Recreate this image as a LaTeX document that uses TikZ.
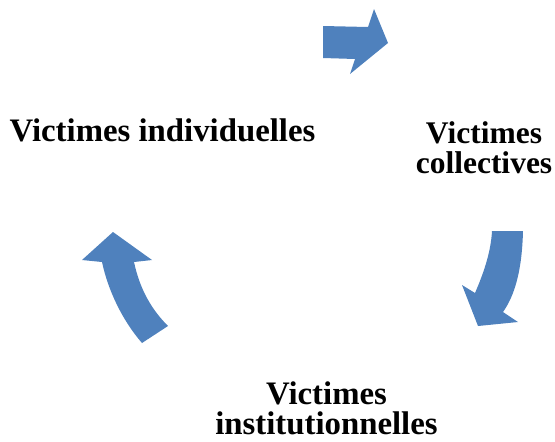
\documentclass[tikz,border=0pt]{standalone}
\usepackage{fontspec}
\setmainfont{Liberation Serif}
\begin{document}
\begin{tikzpicture}[x=1pt,y=-1pt,
  label/.style={font=\bfseries\fontsize{32.8}{29.5}\selectfont, align=center, inner sep=0pt, anchor=base},
  smalllabel/.style={label, font=\bfseries\fontsize{31.5}{30}\selectfont},
  cyclearrow/.style={fill=arrowblue, draw=none}]
\definecolor{arrowblue}{HTML}{4F81BD}
\useasboundingbox (0,0) rectangle (555,442);

% labels (base anchor sits on the last line of each label)
\node[label] (indiv) at (162.5,141) {Victimes individuelles};
\node[smalllabel] (coll) at (484,173) {Victimes\\collectives};
\node[label] (inst) at (326.5,434) {Victimes\\institutionnelles};

% block arrow: individual -> collective
\fill[cyclearrow] (323,26) -- (368,27) -- (374,9) -- (388,43) -- (350,74) -- (355,59) -- (323,58) -- cycle;

% curved arrow: collective -> institutional
\fill[cyclearrow] (492,231) -- (523,231)
  .. controls (522,270) and (515,295) .. (503,312)
  -- (518,322) -- (478,326) -- (462,285) -- (475,293)
  .. controls (485,270) and (491,250) .. (492,231) -- cycle;

% curved arrow: institutional -> individual
\fill[cyclearrow] (113,232) -- (152,260) -- (134,262)
  .. controls (140,290) and (152,310) .. (168,326)
  -- (142,343)
  .. controls (122,320) and (108,290) .. (102,262)
  -- (82,260) -- cycle;
\end{tikzpicture}
\end{document}
